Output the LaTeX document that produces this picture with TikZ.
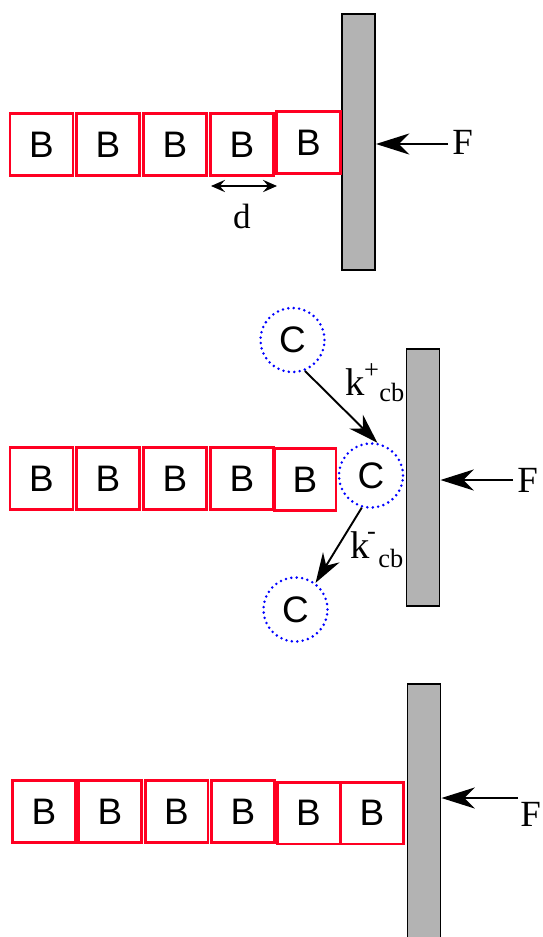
\documentclass[tikz,border=0pt]{standalone}
\usepackage{fontspec}
\setmainfont{Liberation Serif}
\setsansfont{Liberation Sans}
\usetikzlibrary{arrows.meta}
\definecolor{boxred}{HTML}{FF0022}
\definecolor{wallgray}{HTML}{B3B3B3}
\definecolor{dotblue}{HTML}{0000FF}
\begin{document}
\begin{tikzpicture}[x=0.02cm,y=-0.02cm,
  bbox/.style={draw=boxred,line width=1.7pt,minimum width=12.6mm,minimum height=12.4mm,
    inner sep=0pt,font=\sffamily\fontsize{21}{21}\selectfont},
  wall/.style={draw=black,fill=wallgray,line width=1.1pt,minimum width=6.6mm,inner sep=0pt},
  ccirc/.style={circle,draw=dotblue,line width=1.6pt,dash pattern=on 0pt off 3.1pt,line cap=round,
    minimum size=12.8mm,inner sep=0pt,font=\sffamily\fontsize{21}{21}\selectfont},
  lbl/.style={inner sep=0pt,anchor=base west},
  force/.style={-{Stealth[length=19pt,width=12pt,inset=6pt]},line width=1.1pt},
  rate/.style={-{Stealth[length=17pt,width=11pt,inset=5.5pt]},line width=1.1pt}]
\useasboundingbox (0,0) rectangle (543,937);
\fill[white] (0,0) rectangle (543,937);

% ---- top: filament of five B units pushing on the wall
\node[wall,minimum height=51.2mm] (wall1) at (358.5,142) {};
\node[bbox] (a1) at (41.5,144.5) {B};
\node[bbox] (a2) at (108,144.5) {B};
\node[bbox] (a3) at (175,144.5) {B};
\node[bbox] (a4) at (242,144.5) {B};
\node[bbox,minimum width=12.8mm] (a5) at (308.5,142.5) {B};
\coordinate (dl) at (211,186);
\coordinate (dr) at (277,186);
\draw[{Stealth[length=8pt,width=7pt,inset=3pt]}-{Stealth[length=8pt,width=7pt,inset=3pt]},line width=0.9pt] (dl) -- (dr);
\node[inner sep=0pt,anchor=base,font=\fontsize{20}{20}\selectfont] (d) at (242,228) {d};
\node[lbl,font=\fontsize{21}{21}\selectfont] (F1) at (452,154) {F};
\coordinate (f1) at (448,144);
\draw[force] (f1) -- (wall1.east |- f1);

% ---- middle: C binds at the tip and leaves again
\node[wall,minimum height=51.4mm] (wall2) at (423,477.5) {};
\node[bbox] (b1) at (41.5,478.5) {B};
\node[bbox] (b2) at (108,478.5) {B};
\node[bbox] (b3) at (175,478.5) {B};
\node[bbox] (b4) at (242,478.5) {B};
\node[bbox,minimum width=12.4mm] (b5) at (305,479.5) {B};
\node[ccirc] (ctop) at (292.5,340) {C};
\node[ccirc] (cmid) at (371,475.5) {C};
\node[ccirc] (cbot) at (295.5,609.5) {C};
\draw[rate] (ctop.-68) -- (cmid.79);
\draw[rate] (cmid.-106) -- (cbot.53);
\node[lbl,font=\fontsize{22}{22}\selectfont] (kp) at (345,395) {k};
\node[inner sep=0pt,font=\fontsize{15}{15}\selectfont] (kpsup) at (371.5,371) {+};
\node[lbl,font=\fontsize{15}{15}\selectfont] (kpsub) at (379,401) {cb};
\node[lbl,font=\fontsize{22}{22}\selectfont] (km) at (350,558) {k};
\node[inner sep=0pt,font=\fontsize{15}{15}\selectfont] (kmsup) at (371.5,536) {-};
\node[lbl,font=\fontsize{15}{15}\selectfont] (kmsub) at (378,567) {cb};
\node[lbl,font=\fontsize{21}{21}\selectfont] (F2) at (517,492) {F};
\coordinate (f2) at (513,480);
\draw[force] (f2) -- (wall2.east |- f2);

% ---- bottom: filament grown by one unit
\begin{scope}
\clip (0,0) rectangle (543,937);
\node[wall,minimum height=52mm,anchor=north] (wall3) at (424,683) {};
\end{scope}
\node[bbox] (c1) at (44,811.5) {B};
\node[bbox] (c2) at (110,811.5) {B};
\node[bbox] (c3) at (176.5,811.5) {B};
\node[bbox] (c4) at (243,811.5) {B};
\node[bbox] (c5) at (308.5,813) {B};
\node[bbox] (c6) at (372,813) {B};
\node[lbl,font=\fontsize{21}{21}\selectfont] (F3) at (520,826) {F};
\coordinate (f3) at (518,798);
\draw[force] (f3) -- (wall3.east |- f3);
\end{tikzpicture}
\end{document}
